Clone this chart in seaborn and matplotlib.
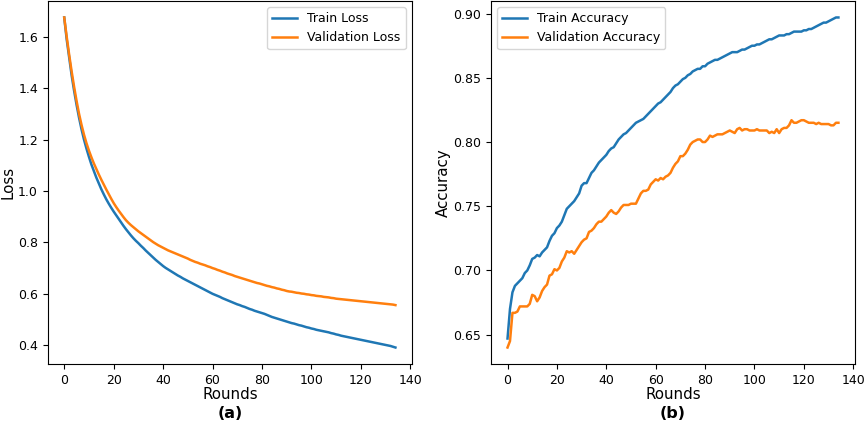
import numpy as np
import pandas as pd
import matplotlib
matplotlib.use("Agg")
import matplotlib.pyplot as plt
import seaborn as sns

# --- data ---
rounds = list(range(135))

train_loss = [
    1.675, 1.59, 1.52, 1.45, 1.39, 1.335, 1.285, 1.24, 1.20, 1.165,
    1.133, 1.103, 1.077, 1.052, 1.029, 1.007, 0.987, 0.968, 0.951, 0.935,
    0.920, 0.906, 0.892, 0.878, 0.864, 0.851, 0.839, 0.827, 0.816, 0.806,
    0.797, 0.787, 0.778, 0.768, 0.759, 0.750, 0.741, 0.732, 0.724, 0.716,
    0.708, 0.701, 0.695, 0.689, 0.683, 0.677, 0.671, 0.666, 0.660, 0.655,
    0.650, 0.645, 0.640, 0.635, 0.630, 0.625, 0.620, 0.615, 0.610, 0.605,
    0.600, 0.596, 0.592, 0.588, 0.583, 0.579, 0.575, 0.571, 0.567, 0.563,
    0.559, 0.556, 0.552, 0.549, 0.545, 0.541, 0.538, 0.534, 0.531, 0.528,
    0.525, 0.522, 0.518, 0.514, 0.510, 0.507, 0.504, 0.501, 0.498, 0.495,
    0.492, 0.489, 0.486, 0.484, 0.481, 0.478, 0.476, 0.473, 0.470, 0.468,
    0.465, 0.463, 0.460, 0.458, 0.456, 0.454, 0.452, 0.450, 0.447, 0.445,
    0.442, 0.440, 0.437, 0.435, 0.433, 0.431, 0.429, 0.427, 0.425, 0.423,
    0.421, 0.419, 0.417, 0.415, 0.413, 0.411, 0.409, 0.407, 0.405, 0.403,
    0.401, 0.399, 0.397, 0.394, 0.391,
]

val_loss = [
    1.675, 1.60, 1.53, 1.465, 1.405, 1.35, 1.30, 1.257, 1.219, 1.186,
    1.157, 1.131, 1.107, 1.085, 1.064, 1.044, 1.025, 1.006, 0.988, 0.970,
    0.953, 0.938, 0.924, 0.911, 0.898, 0.886, 0.876, 0.867, 0.859, 0.851,
    0.843, 0.836, 0.829, 0.822, 0.815, 0.808, 0.801, 0.795, 0.789, 0.784,
    0.779, 0.774, 0.769, 0.765, 0.761, 0.757, 0.753, 0.749, 0.745, 0.741,
    0.737, 0.732, 0.728, 0.724, 0.721, 0.717, 0.714, 0.711, 0.707, 0.704,
    0.700, 0.697, 0.693, 0.690, 0.686, 0.683, 0.679, 0.676, 0.673, 0.669,
    0.666, 0.663, 0.660, 0.657, 0.654, 0.651, 0.648, 0.645, 0.642, 0.640,
    0.637, 0.634, 0.631, 0.629, 0.626, 0.624, 0.621, 0.619, 0.616, 0.614,
    0.611, 0.609, 0.608, 0.606, 0.604, 0.603, 0.601, 0.600, 0.598, 0.597,
    0.595, 0.594, 0.592, 0.591, 0.590, 0.588, 0.587, 0.586, 0.584, 0.583,
    0.581, 0.580, 0.579, 0.578, 0.577, 0.576, 0.575, 0.574, 0.573, 0.572,
    0.571, 0.570, 0.569, 0.568, 0.567, 0.566, 0.565, 0.564, 0.563, 0.562,
    0.561, 0.560, 0.559, 0.558, 0.556,
]

train_acc = [
    0.647, 0.670, 0.683, 0.688, 0.690, 0.692, 0.694, 0.698, 0.700, 0.704,
    0.709, 0.710, 0.712, 0.711, 0.714, 0.716, 0.718, 0.723, 0.727, 0.729,
    0.733, 0.735, 0.738, 0.743, 0.748, 0.750, 0.752, 0.754, 0.757, 0.760,
    0.766, 0.768, 0.768, 0.772, 0.776, 0.778, 0.781, 0.784, 0.786, 0.788,
    0.790, 0.793, 0.795, 0.796, 0.799, 0.802, 0.804, 0.806, 0.807, 0.809,
    0.811, 0.813, 0.815, 0.816, 0.817, 0.818, 0.820, 0.822, 0.824, 0.826,
    0.828, 0.830, 0.831, 0.833, 0.835, 0.837, 0.839, 0.842, 0.844, 0.845,
    0.847, 0.849, 0.850, 0.852, 0.853, 0.855, 0.856, 0.857, 0.857, 0.859,
    0.859, 0.861, 0.862, 0.863, 0.864, 0.864, 0.865, 0.866, 0.867, 0.868,
    0.869, 0.870, 0.870, 0.870, 0.871, 0.872, 0.872, 0.873, 0.874, 0.875,
    0.875, 0.876, 0.876, 0.877, 0.878, 0.879, 0.880, 0.880, 0.881, 0.882,
    0.883, 0.883, 0.883, 0.884, 0.884, 0.885, 0.886, 0.886, 0.886, 0.886,
    0.887, 0.887, 0.888, 0.888, 0.889, 0.890, 0.891, 0.892, 0.893, 0.893,
    0.894, 0.895, 0.896, 0.897, 0.897,
]

val_acc = [
    0.640, 0.645, 0.667, 0.667, 0.668, 0.672, 0.672, 0.672, 0.672, 0.674,
    0.681, 0.680, 0.676, 0.679, 0.684, 0.687, 0.689, 0.696, 0.697, 0.701,
    0.700, 0.702, 0.707, 0.710, 0.715, 0.714, 0.715, 0.713, 0.716, 0.719,
    0.722, 0.724, 0.725, 0.730, 0.731, 0.733, 0.736, 0.738, 0.738, 0.740,
    0.742, 0.745, 0.747, 0.745, 0.744, 0.746, 0.749, 0.751, 0.751, 0.751,
    0.752, 0.752, 0.752, 0.756, 0.760, 0.762, 0.762, 0.763, 0.767, 0.769,
    0.771, 0.770, 0.772, 0.771, 0.773, 0.774, 0.776, 0.780, 0.783, 0.785,
    0.789, 0.789, 0.791, 0.794, 0.798, 0.800, 0.801, 0.802, 0.802, 0.800,
    0.800, 0.802, 0.805, 0.804, 0.805, 0.806, 0.806, 0.806, 0.807, 0.808,
    0.809, 0.808, 0.807, 0.810, 0.811, 0.809, 0.810, 0.810, 0.809, 0.809,
    0.809, 0.810, 0.809, 0.809, 0.809, 0.809, 0.807, 0.808, 0.807, 0.810,
    0.807, 0.810, 0.811, 0.811, 0.813, 0.817, 0.815, 0.815, 0.816, 0.817,
    0.817, 0.816, 0.815, 0.815, 0.815, 0.814, 0.815, 0.814, 0.814, 0.814,
    0.814, 0.813, 0.813, 0.815, 0.815,
]

BLUE = "#1f77b4"
ORANGE = "#ff7f0e"

df = pd.DataFrame({
    "Rounds": rounds,
    "train_loss": train_loss,
    "val_loss": val_loss,
    "train_acc": train_acc,
    "val_acc": val_acc,
})

fig = plt.figure(figsize=(8.65, 4.22), dpi=100)
ax_l = fig.add_axes([0.0551, 0.1374, 0.4212, 0.8603])
ax_a = fig.add_axes([0.5676, 0.1374, 0.4208, 0.8603])

# --- (a) loss ---
sns.lineplot(data=df, x="Rounds", y="train_loss", ax=ax_l, color=BLUE,
             label="Train Loss", linewidth=1.8)
sns.lineplot(data=df, x="Rounds", y="val_loss", ax=ax_l, color=ORANGE,
             label="Validation Loss", linewidth=1.8)
ax_l.set_ylabel("Loss", fontsize=10.8, labelpad=2)
ax_l.legend(loc="upper right", fontsize=9)

# --- (b) accuracy ---
sns.lineplot(data=df, x="Rounds", y="train_acc", ax=ax_a, color=BLUE,
             label="Train Accuracy", linewidth=1.8)
sns.lineplot(data=df, x="Rounds", y="val_acc", ax=ax_a, color=ORANGE,
             label="Validation Accuracy", linewidth=1.8)
ax_a.set_ylabel("Accuracy", fontsize=10.8, labelpad=2)
ax_a.legend(loc="upper left", fontsize=9)
ax_a.set_yticks([0.65, 0.70, 0.75, 0.80, 0.85, 0.90])

for ax, tag in [(ax_l, "(a)"), (ax_a, "(b)")]:
    ax.set_xlabel("Rounds", fontsize=10.8, labelpad=0)
    ax.set_xticks(range(0, 141, 20))
    ax.tick_params(labelsize=9)
    ax.text(0.5, -0.137, tag, transform=ax.transAxes, ha="center",
            va="center", fontsize=11.5, fontweight="bold")

fig.savefig("out.png", dpi=100)
